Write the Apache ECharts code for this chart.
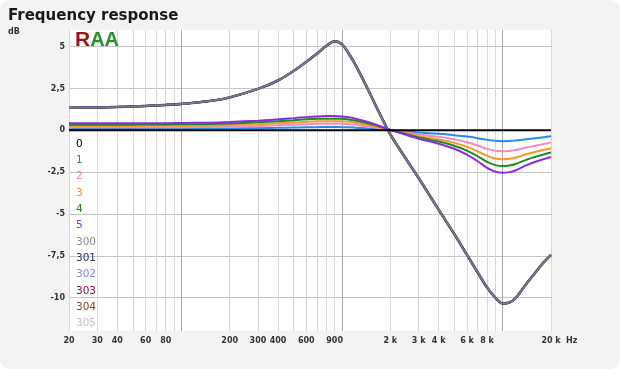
<!DOCTYPE html>
<html><head><meta charset="utf-8">
<script src="https://cdn.jsdelivr.net/npm/echarts@6/dist/echarts.min.js"></script>
<style>html,body{margin:0;padding:0;background:#fff;}#c{width:620px;height:369px;background:#f3f3f3;border-radius:10px;overflow:hidden}</style>
</head><body><div id="c"></div><script>
// Frequencies (Hz)
const freqs = [20, 30, 40, 50, 60, 80, 100, 150, 200, 300, 400, 500, 600, 700, 800, 900, 1000, 1100, 1200, 1400, 1600, 1800, 2000, 2500, 3000, 4000, 5000, 6000, 7000, 8000, 9000, 10000, 11000, 12000, 14000, 16000, 18000, 20000];
// dB values
const curve0Freqs = [20, 20000];
const curve0 = [0, 0];
const curve1 = [0.08,0.08,0.08,0.08,0.09,0.09,0.09,0.1,0.11,0.13,0.15,0.17,0.18,0.19,0.2,0.2,0.19,0.18,0.16,0.12,0.08,0.04,0.01,-0.07,-0.13,-0.21,-0.29,-0.37,-0.47,-0.57,-0.63,-0.65,-0.64,-0.61,-0.54,-0.47,-0.41,-0.36];
const curve2 = [0.18,0.18,0.18,0.18,0.18,0.19,0.19,0.2,0.22,0.26,0.3,0.34,0.37,0.39,0.4,0.4,0.39,0.37,0.33,0.25,0.17,0.09,0.02,-0.13,-0.24,-0.39,-0.54,-0.71,-0.91,-1.11,-1.22,-1.25,-1.23,-1.18,-1.03,-0.92,-0.82,-0.73];
const curve3 = [0.26,0.26,0.26,0.26,0.27,0.27,0.28,0.29,0.32,0.37,0.42,0.47,0.51,0.54,0.55,0.55,0.54,0.51,0.46,0.35,0.24,0.12,0.02,-0.18,-0.34,-0.55,-0.75,-0.99,-1.26,-1.53,-1.69,-1.73,-1.7,-1.63,-1.43,-1.28,-1.16,-1.07];
const curve4 = [0.34,0.34,0.34,0.34,0.35,0.35,0.36,0.38,0.41,0.48,0.55,0.61,0.66,0.69,0.7,0.7,0.69,0.65,0.59,0.45,0.31,0.16,0.03,-0.22,-0.42,-0.67,-0.92,-1.21,-1.55,-1.89,-2.08,-2.14,-2.1,-2.01,-1.77,-1.58,-1.44,-1.33];
const curve5 = [0.42,0.42,0.42,0.42,0.43,0.43,0.44,0.46,0.5,0.58,0.66,0.73,0.79,0.83,0.85,0.85,0.83,0.78,0.71,0.54,0.37,0.19,0.03,-0.27,-0.5,-0.8,-1.1,-1.45,-1.85,-2.25,-2.47,-2.54,-2.5,-2.4,-2.1,-1.88,-1.72,-1.59];
const curve300 = [1.35,1.37,1.4,1.43,1.46,1.52,1.58,1.75,1.97,2.48,2.98,3.55,4.1,4.6,5.05,5.32,5.15,4.6,4.0,2.75,1.6,0.6,-0.25,-1.7,-2.85,-4.75,-6.2,-7.45,-8.5,-9.4,-10.0,-10.35,-10.3,-10.05,-9.2,-8.5,-7.9,-7.45];
const curve301 = curve300, curve302 = curve300, curve303 = curve300, curve304 = curve300, curve305 = curve300;

// Axis ticks
const xGridFreqs = [20,30,40,50,60,70,80,90,100,200,300,400,500,600,700,800,900,1000,2000,3000,4000,5000,6000,7000,8000,9000,10000,20000];
const xDecadeFreqs = [100, 1000, 10000];
const xTickFreqs = [20,30,40,60,80,200,300,400,600,900,2000,3000,4000,6000,8000,20000];
const xTickLabels = ['20','30','40','60','80','200','300','400','600','900','2 k','3 k','4 k','6 k','8 k','20 k'];
const yTicks = [-10,-7.5,-5,-2.5,0,2.5,5];
const yTickLabels = ['-10','-7,5','-5','-2,5','0','2,5','5'];

const legendNames = ['0','1','2','3','4','5','300','301','302','303','304','305'];
const legendColors = ['#000000','#1f86e0','#f27fc4','#f0952a','#1f8a24','#8a2be2','#8a8a8a','#1b2f6e','#7f86e6','#8b1340','#8a4a22','#c0c0c0'];

const lg = f => Math.log10(f);
const pts = (fs, vs) => fs.map((f, i) => [lg(f), vs[i]]);
const font = 'DejaVu Sans, Verdana, sans-serif';

const lineSeries = (name, fs, vs, color, width) => ({
  name, type: 'line', data: pts(fs, vs), showSymbol: false, symbol: 'none',
  smooth: 0.3, color, lineStyle: { color, width }, silent: true, animation: false
});

const series = [
  lineSeries('305', freqs, curve305, legendColors[11], 2),
  lineSeries('304', freqs, curve304, legendColors[10], 2),
  lineSeries('303', freqs, curve303, legendColors[9], 2),
  lineSeries('302', freqs, curve302, legendColors[8], 2),
  lineSeries('301', freqs, curve301, '#3c3c60', 2.6),
  lineSeries('300', freqs, curve300, '#7a7a86', 1.8),
  lineSeries('1', freqs, curve1, '#2a8ae6', 2),
  lineSeries('2', freqs, curve2, '#f08cc8', 2),
  lineSeries('3', freqs, curve3, '#f39a2a', 2),
  lineSeries('4', freqs, curve4, '#1f8a24', 2),
  lineSeries('5', freqs, curve5, '#8a2be2', 2),
  lineSeries('0', curve0Freqs, curve0, '#000000', 2)
];

const chart = echarts.init(document.getElementById('c'), null, { renderer: 'canvas' });
chart.setOption({
  animation: false,
  textStyle: { fontFamily: font },
  title: { text: 'Frequency response', left: 3, top: 4, textStyle: { fontFamily: font, fontSize: 15, fontWeight: 'bold', color: '#1a1a1a' } },
  grid: { left: 69, right: 69, top: 30, bottom: 38, containLabel: false, outerBoundsMode: 'none', show: true, backgroundColor: '#ffffff', borderWidth: 0 },
  legend: {
    orient: 'vertical', left: 75, top: 136, itemGap: 0, itemWidth: 0, itemHeight: 10, icon: 'none',
    selectedMode: false, padding: 0,
    data: legendNames.map((n, i) => ({ name: n, textStyle: { color: legendColors[i], fontSize: 10.5, lineHeight: 16.3, fontFamily: font } })),
    textStyle: { fontSize: 10.5, lineHeight: 16.3, fontFamily: font, padding: [0, 0, 0, -4] }
  },
  xAxis: [{
    type: 'value', min: lg(20), max: lg(20000),
    axisLine: { show: false }, axisTick: { show: false, customValues: xGridFreqs.map(lg) },
    splitLine: { show: true, lineStyle: { color: '#d6d6d6', width: 1 } },
    axisLabel: {
      customValues: xTickFreqs.map(lg), margin: 6, fontSize: 8, fontWeight: 'bold', color: '#333', fontFamily: font,
      formatter: v => { const i = xTickFreqs.findIndex(f => Math.abs(lg(f) - v) < 1e-6); return i >= 0 ? xTickLabels[i] : ''; }
    }
  }, {
    type: 'value', min: lg(20), max: lg(20000), position: 'bottom',
    axisLine: { show: false }, axisTick: { show: false, customValues: xDecadeFreqs.map(lg) },
    splitLine: { show: true, lineStyle: { color: '#ababab', width: 1 } },
    axisLabel: { show: false }
  }],
  yAxis: {
    type: 'value', min: -12, max: 6,
    axisLine: { show: false }, axisTick: { show: false, customValues: yTicks },
    splitLine: { show: true, lineStyle: { color: '#c4c4c4', width: 1 } },
    axisLabel: {
      customValues: yTicks, margin: 4, fontSize: 8, fontWeight: 'bold', color: '#333', fontFamily: font,
      formatter: v => { const i = yTicks.findIndex(t => Math.abs(t - v) < 1e-6); return i >= 0 ? yTickLabels[i] : ''; }
    }
  },
  graphic: [
    { type: 'text', left: 8, top: 28, style: { text: 'dB', font: 'bold 8px ' + font, fill: '#333' } },
    { type: 'text', left: 566, top: 337, style: { text: 'Hz', font: 'bold 8px ' + font, fill: '#333' } },
    { type: 'text', left: 75, top: 30, z: 10, style: {
      text: '{r|R}{a|AA}', rich: {
        r: { fontSize: 21, fontWeight: 'bold', fill: '#9b1414', fontFamily: 'Liberation Sans, sans-serif' },
        a: { fontSize: 20, fontWeight: 'bold', fill: '#2e8b2e', fontFamily: 'Liberation Sans, sans-serif' }
      } } }
  ],
  series: series.map(s => Object.assign(s, { xAxisIndex: 0 }))
});
</script></body></html>
